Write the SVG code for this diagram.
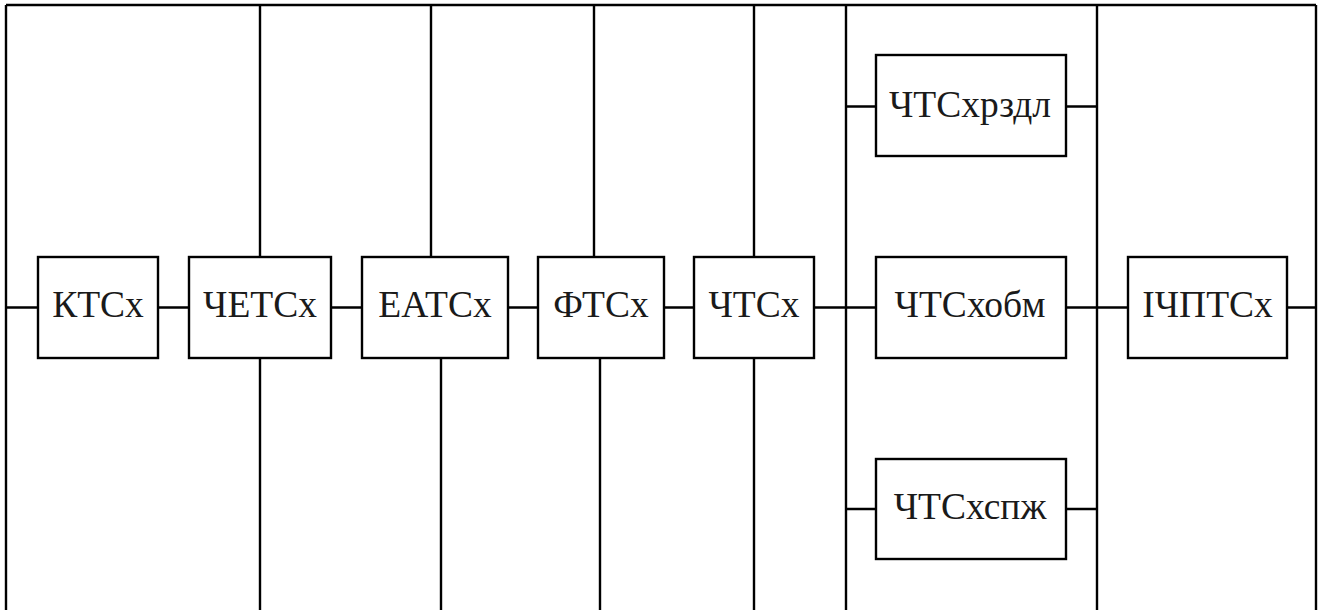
<svg xmlns="http://www.w3.org/2000/svg" width="1322" height="610" viewBox="0 0 1322 610">
<style>
.b{fill:#fff;stroke:#000;stroke-width:2.4}
.c{stroke:#000;stroke-width:2.4;fill:none}
.t{font-family:'Liberation Serif','Times New Roman',serif;font-size:37.5px;fill:#1a1a1a;text-anchor:middle}
</style>
<rect width="1322" height="610" fill="#fff"/>
<g id="connectors" class="c">
<path d="M6,5H1316"/>
<path d="M6,5V610M846,5V610M1097,5V610M1316,5V610"/>
<path d="M260,5V257M431,5V257M594,5V257M754,5V257"/>
<path d="M260,358V610M441,358V610M600,358V610M754,358V610"/>
<path d="M6,307.5H38M158,307.5H189M331,307.5H362M508,307.5H538M664,307.5H694M814,307.5H876M1066,307.5H1128M1287,307.5H1316"/>
<path d="M846,106.5H876M1066,106.5H1097M846,509H876M1066,509H1097"/>
</g>
<g id="n1"><rect class="b" x="38" y="257" width="120" height="101"/><text class="t" x="98" y="317">КТСх</text></g>
<g id="n2"><rect class="b" x="189" y="257" width="142" height="101"/><text class="t" x="260" y="317">ЧЕТСх</text></g>
<g id="n3"><rect class="b" x="362" y="257" width="146" height="101"/><text class="t" x="435" y="317">ЕАТСх</text></g>
<g id="n4"><rect class="b" x="538" y="257" width="126" height="101"/><text class="t" x="601" y="317">ФТСх</text></g>
<g id="n5"><rect class="b" x="694" y="257" width="120" height="101"/><text class="t" x="754" y="317">ЧТСх</text></g>
<g id="n6"><rect class="b" x="876" y="55" width="190" height="101"/><text class="t" x="970" y="117">ЧТСхрздл</text></g>
<g id="n7"><rect class="b" x="876" y="257" width="190" height="101"/><text class="t" x="970" y="317">ЧТСхобм</text></g>
<g id="n8"><rect class="b" x="876" y="459" width="190" height="100"/><text class="t" x="970" y="519">ЧТСхспж</text></g>
<g id="n9"><rect class="b" x="1128" y="257" width="159" height="101"/><text class="t" x="1207.5" y="317">ІЧПТСх</text></g>
</svg>
